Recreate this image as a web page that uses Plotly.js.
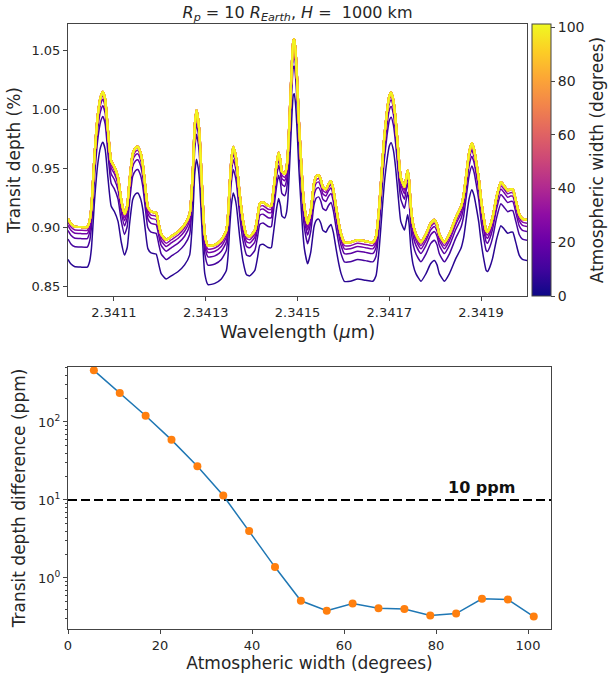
<!DOCTYPE html>
<html><head><meta charset="utf-8">
<script src="https://cdn.plot.ly/plotly-3.0.1.min.js"></script>
<style>html,body{margin:0;padding:0;background:#fff}#chart{width:610px;height:676px}</style>
</head><body><div id="chart"></div>
<script>
// ---------- DATA ----------
const wavelength = [
2.341000,2.341006,2.341014,2.341028,2.341042,2.341047,2.341051,2.341058,2.341065,2.341071,
2.341076,2.341081,2.341087,2.341094,2.341101,2.341109,2.341116,2.341123,2.341129,2.341134,
2.341141,2.341147,2.341152,2.341158,2.341163,2.341169,2.341174,2.341181,2.341192,2.341198,
2.341203,2.341214,2.341225,2.341240,2.341254,2.341265,2.341272,2.341276,2.341280,2.341284,
2.341287,2.341292,2.341298,2.341305,2.341320,2.341334,2.341345,2.341349,2.341352,2.341356,
2.341360,2.341364,2.341367,2.341374,2.341381,2.341389,2.341396,2.341407,2.341413,2.341418,
2.341425,2.341436,2.341443,2.341446,2.341450,2.341455,2.341459,2.341463,2.341466,2.341472,
2.341476,2.341479,2.341483,2.341487,2.341491,2.341493,2.341496,2.341500,2.341503,2.341507,
2.341511,2.341515,2.341522,2.341529,2.341536,2.341541,2.341546,2.341551,2.341555,2.341562,
2.341567,2.341573,2.341578,2.341584,2.341590,2.341595,2.341602,2.341615,2.341631,2.341648,
2.341664,2.341671,2.341678,2.341684,2.341689,2.341695,2.341700,2.341704,2.341709,2.341714,
2.341720,2.341725,2.341733,2.341737,2.341740,2.341743,2.341747,2.341752,2.341758,2.341769,
2.341780,2.341790,2.341798,2.341804,2.341809,2.341820,2.341831,2.341845,2.341856,2.341862,
2.341867,2.341874,2.341880,2.341885,2.341889,2.341895,2.341900,2.341906,2.341911,2.341914,
2.341919,2.341925,2.341934,2.341943,2.341950,2.341958,2.341964,2.341969,2.341976,2.341983,
2.341990,2.342000];

// transit depth (%) for atmospheric width 5.625 deg
const depthW05 = [
.8725,.8688,.8665,.8660,.8660,.8706,.8817,.9233,.9538,.9677,
.9719,.9658,.9418,.9178,.9131,.9048,.8873,.8762,.8826,.9021,
.9233,.9279,.9288,.9242,.9150,.8956,.8817,.8780,.8771,.8679,
.8605,.8559,.8586,.8623,.8679,.8762,.9104,.9446,.9575,.9492,
.9362,.8974,.8605,.8512,.8522,.8559,.8632,.8771,.8974,.9187,
.9288,.9242,.9178,.8919,.8716,.8595,.8586,.8632,.8743,.8845,
.8854,.8826,.8826,.8900,.9021,.9168,.9242,.9178,.9094,.9076,
.9122,.9233,.9538,.9880,1.0120,1.0129,1.0028,.9750,.9492,.9233,
.8984,.8817,.8688,.8790,.9002,.9057,.9067,.9030,.8974,.8956,
.8993,.9021,.8956,.8817,.8688,.8605,.8540,.8540,.8559,.8549,
.8540,.8586,.8817,.9122,.9362,.9566,.9686,.9714,.9649,.9492,
.9233,.9048,.8974,.9048,.9104,.9030,.8817,.8679,.8605,.8540,
.8605,.8688,.8716,.8679,.8605,.8540,.8605,.8734,.8817,.8910,
.9048,.9242,.9316,.9261,.9178,.9039,.8873,.8725,.8632,.8623,
.8660,.8734,.8900,.9011,.8984,.8947,.8956,.8956,.8863,.8762,
.8725,.8716];

// width 11.25 deg
const depthW11 = [
.8898,.8859,.8835,.8830,.8830,.8879,.8995,.9429,.9747,.9892,
.9936,.9873,.9622,.9371,.9323,.9236,.9052,.8937,.9004,.9207,
.9429,.9477,.9487,.9438,.9342,.9139,.8995,.8956,.8946,.8850,
.8773,.8724,.8753,.8792,.8850,.8937,.9294,.9651,.9786,.9699,
.9564,.9159,.8773,.8676,.8686,.8724,.8802,.8946,.9159,.9381,
.9487,.9438,.9371,.9101,.8888,.8763,.8753,.8802,.8917,.9023,
.9033,.9004,.9004,.9081,.9207,.9361,.9438,.9371,.9284,.9265,
.9313,.9429,.9747,1.0104,1.0355,1.0365,1.0259,.9969,.9699,.9429,
.9168,.8995,.8859,.8966,.9188,.9245,.9255,.9216,.9159,.9139,
.9178,.9207,.9139,.8995,.8859,.8773,.8705,.8705,.8724,.8715,
.8705,.8753,.8995,.9313,.9564,.9776,.9902,.9931,.9863,.9699,
.9429,.9236,.9159,.9236,.9294,.9216,.8995,.8850,.8773,.8705,
.8773,.8859,.8888,.8850,.8773,.8705,.8773,.8908,.8995,.9091,
.9236,.9438,.9516,.9458,.9371,.9226,.9052,.8898,.8802,.8792,
.8830,.8908,.9081,.9197,.9168,.9130,.9139,.9139,.9043,.8937,
.8898,.8888];

// width 16.875 deg
const depthW17 = [
.8971,.8932,.8907,.8902,.8902,.8952,.9069,.9511,.9835,.9982,
1.0027,.9962,.9707,.9452,.9403,.9315,.9128,.9010,.9079,.9285,
.9511,.9560,.9570,.9521,.9423,.9216,.9069,.9030,.9020,.8922,
.8844,.8795,.8824,.8863,.8922,.9010,.9373,.9736,.9874,.9785,
.9648,.9236,.8844,.8746,.8755,.8795,.8873,.9020,.9236,.9462,
.9570,.9521,.9452,.9177,.8961,.8834,.8824,.8873,.8991,.9099,
.9109,.9079,.9079,.9158,.9285,.9442,.9521,.9452,.9364,.9344,
.9393,.9511,.9835,1.0197,1.0453,1.0462,1.0354,1.0060,.9785,.9511,
.9246,.9069,.8932,.9040,.9266,.9324,.9334,.9295,.9236,.9216,
.9256,.9285,.9216,.9069,.8932,.8844,.8775,.8775,.8795,.8785,
.8775,.8824,.9069,.9393,.9648,.9864,.9991,1.0021,.9952,.9785,
.9511,.9315,.9236,.9315,.9373,.9295,.9069,.8922,.8844,.8775,
.8844,.8932,.8961,.8922,.8844,.8775,.8844,.8981,.9069,.9167,
.9315,.9521,.9599,.9540,.9452,.9305,.9128,.8971,.8873,.8863,
.8902,.8981,.9158,.9275,.9246,.9207,.9216,.9216,.9118,.9010,
.8971,.8961];

// width 22.5 deg
const depthW22 = [
.9014,.8974,.8949,.8944,.8944,.8994,.9113,.9561,.9889,1.0038,
1.0083,1.0018,.9759,.9501,.9451,.9362,.9173,.9054,.9123,.9332,
.9561,.9610,.9620,.9570,.9471,.9262,.9113,.9073,.9063,.8964,
.8885,.8835,.8865,.8905,.8964,.9054,.9421,.9789,.9928,.9839,
.9700,.9282,.8885,.8785,.8795,.8835,.8914,.9063,.9282,.9511,
.9620,.9570,.9501,.9223,.9004,.8875,.8865,.8914,.9034,.9143,
.9153,.9123,.9123,.9203,.9332,.9491,.9570,.9501,.9411,.9392,
.9441,.9561,.9889,1.0256,1.0515,1.0525,1.0415,1.0117,.9839,.9561,
.9292,.9113,.8974,.9083,.9312,.9372,.9382,.9342,.9282,.9262,
.9302,.9332,.9262,.9113,.8974,.8885,.8815,.8815,.8835,.8825,
.8815,.8865,.9113,.9441,.9700,.9918,1.0048,1.0077,1.0008,.9839,
.9561,.9362,.9282,.9362,.9421,.9342,.9113,.8964,.8885,.8815,
.8885,.8974,.9004,.8964,.8885,.8815,.8885,.9024,.9113,.9213,
.9362,.9570,.9650,.9590,.9501,.9352,.9173,.9014,.8914,.8905,
.8944,.9024,.9203,.9322,.9292,.9252,.9262,.9262,.9163,.9054,
.9014,.9004];

// width 28.125 deg
const depthW28 = [
.9041,.9002,.8977,.8972,.8972,.9021,.9141,.9590,.9919,1.0068,
1.0114,1.0048,.9789,.9530,.9480,.9390,.9201,.9081,.9151,.9360,
.9590,.9640,.9650,.9600,.9500,.9291,.9141,.9101,.9091,.8992,
.8912,.8862,.8892,.8932,.8992,.9081,.9450,.9819,.9959,.9869,
.9729,.9311,.8912,.8812,.8822,.8862,.8942,.9091,.9311,.9540,
.9650,.9600,.9530,.9251,.9031,.8902,.8892,.8942,.9061,.9171,
.9181,.9151,.9151,.9231,.9360,.9520,.9600,.9530,.9440,.9420,
.9470,.9590,.9919,1.0288,1.0547,1.0557,1.0447,1.0148,.9869,.9590,
.9321,.9141,.9002,.9111,.9340,.9400,.9410,.9370,.9311,.9291,
.9331,.9360,.9291,.9141,.9002,.8912,.8842,.8842,.8862,.8852,
.8842,.8892,.9141,.9470,.9729,.9949,1.0078,1.0108,1.0038,.9869,
.9590,.9390,.9311,.9390,.9450,.9370,.9141,.8992,.8912,.8842,
.8912,.9002,.9031,.8992,.8912,.8842,.8912,.9051,.9141,.9241,
.9390,.9600,.9680,.9620,.9530,.9380,.9201,.9041,.8942,.8932,
.8972,.9051,.9231,.9350,.9321,.9281,.9291,.9291,.9191,.9081,
.9041,.9031];

// widths >= 33.75 deg (visually indistinguishable, top envelope)
const depthUpper = [
.907,.903,.9005,.900,.900,.905,.917,.962,.995,1.010,
1.0146,1.008,.982,.956,.951,.942,.923,.911,.918,.939,
.962,.967,.968,.963,.953,.932,.917,.913,.912,.902,
.894,.889,.892,.896,.902,.911,.948,.985,.999,.990,
.976,.934,.894,.884,.885,.889,.897,.912,.934,.957,
.968,.963,.956,.928,.906,.893,.892,.897,.909,.920,
.921,.918,.918,.926,.939,.955,.963,.956,.947,.945,
.950,.962,.995,1.032,1.058,1.059,1.048,1.018,.990,.962,
.935,.917,.903,.914,.937,.943,.944,.940,.934,.932,
.936,.939,.932,.917,.903,.894,.887,.887,.889,.888,
.887,.892,.917,.950,.976,.998,1.011,1.014,1.007,.990,
.962,.942,.934,.942,.948,.940,.917,.902,.894,.887,
.894,.903,.906,.902,.894,.887,.894,.908,.917,.927,
.942,.963,.971,.965,.956,.941,.923,.907,.897,.896,
.900,.908,.926,.938,.935,.931,.932,.932,.922,.911,
.907,.906];

const atmWidth = [5.625, 11.25, 16.875, 22.5, 28.125, 33.75, 39.375, 45, 50.625,
                  56.25, 61.875, 67.5, 73.125, 78.75, 84.375, 90, 95.625, 101.25];
const depthDiffPpm = [459, 235, 120, 59, 27, 11.4, 4.0, 1.38, 0.51,
                      0.38, 0.47, 0.41, 0.40, 0.33, 0.35, 0.54, 0.53, 0.32];
const thresholdPpm = 10;
const thresholdLabel = '10 ppm';

const xTicksTop = [2.3411, 2.3413, 2.3415, 2.3417, 2.3419];
const yTicksTop = [0.85, 0.90, 0.95, 1.00, 1.05];
const cbTicks = [0, 20, 40, 60, 80, 100];
const xTicksBottom = [0, 20, 40, 60, 80, 100];
const yTicksBottom = [1, 10, 100];
const yTickTextBottom = ['10<sup>0</sup>', '10<sup>1</sup>', '10<sup>2</sup>'];

// ---------- STYLE ----------
const plasmaStops = [[0,'#0d0887'],[0.1,'#41049d'],[0.2,'#6a00a8'],[0.3,'#8f0da4'],
  [0.4,'#b12a90'],[0.5,'#cc4778'],[0.6,'#e16462'],[0.7,'#f2844b'],[0.8,'#fca636'],
  [0.9,'#fcce25'],[1,'#f0f921']];
function hex2rgb(h){return [parseInt(h.substr(1,2),16),parseInt(h.substr(3,2),16),parseInt(h.substr(5,2),16)];}
function plasma(n){
  n = Math.max(0, Math.min(1, n));
  for (let i = 0; i < plasmaStops.length - 1; i++) {
    const [a, ca] = plasmaStops[i], [b, cb] = plasmaStops[i+1];
    if (n <= b) {
      const f = (n - a) / (b - a), A = hex2rgb(ca), B = hex2rgb(cb);
      return 'rgb(' + A.map((v, k) => Math.round(v + f * (B[k] - v))).join(',') + ')';
    }
  }
  return plasmaStops[plasmaStops.length-1][1];
}
const cmax = atmWidth[atmWidth.length - 1];
const lowerSpectra = [depthW05, depthW11, depthW17, depthW22, depthW28];

const W = 610, H = 676;
const px = v => v / W, py = v => 1 - v / H;
const axisCol = '#444', txtCol = '#262626', FONT = 'DejaVu Sans, sans-serif';

const traces = [];
atmWidth.forEach((w, i) => {
  const y = i < lowerSpectra.length ? lowerSpectra[i] : depthUpper;
  const last = i === atmWidth.length - 1;
  traces.push({
    type: 'scatter', mode: 'lines', x: wavelength, y: y,
    xaxis: 'x', yaxis: 'y', hoverinfo: 'skip', showlegend: false,
    line: {color: plasma(w / cmax), width: i < lowerSpectra.length ? 1.5 : (last ? 1.4 : 2.2),
           shape: 'spline', smoothing: 0.5}
  });
});
// colorbar carrier
traces.push({
  type: 'scatter', mode: 'markers', x: [wavelength[0], wavelength[0]], y: [depthUpper[0], depthUpper[0]],
  xaxis: 'x', yaxis: 'y', hoverinfo: 'skip', showlegend: false,
  marker: {size: 0.1, opacity: 0, color: [0, cmax], cmin: 0, cmax: cmax,
    colorscale: plasmaStops, showscale: true,
    colorbar: {x: px(532), xanchor: 'left', xref: 'paper', y: py(24), yanchor: 'top', yref: 'paper',
      len: (296 - 24) / H, lenmode: 'fraction', thickness: 19, thicknessmode: 'pixels',
      xpad: 0, ypad: 0, outlinewidth: 1, outlinecolor: axisCol,
      tickmode: 'array', tickvals: cbTicks, ticks: 'outside', ticklen: 4, tickcolor: axisCol,
      tickfont: {size: 14, color: txtCol, family: FONT},
      title: {text: 'Atmospheric width (degrees)', side: 'right', font: {size: 17, color: txtCol, family: FONT}}}}
});
// bottom panel
traces.push({
  type: 'scatter', mode: 'lines', x: [0, 105], y: [thresholdPpm, thresholdPpm],
  xaxis: 'x2', yaxis: 'y2', hoverinfo: 'skip', showlegend: false,
  line: {color: '#000', width: 2, dash: '9px,4px'}
});
traces.push({
  type: 'scatter', mode: 'lines+markers', x: atmWidth, y: depthDiffPpm,
  xaxis: 'x2', yaxis: 'y2', hoverinfo: 'skip', showlegend: false,
  line: {color: '#1f77b4', width: 1.5},
  marker: {color: '#ff7f0e', size: 8}
});

const minorVals = [];
[0.1, 1, 10, 100].forEach(d => { for (let k = 2; k <= 9; k++) minorVals.push(k * d); });

const baseAxis = {
  showgrid: false, zeroline: false, showline: true, mirror: true, linecolor: axisCol, linewidth: 1,
  ticks: 'outside', ticklen: 4, tickwidth: 1, tickcolor: axisCol,
  tickfont: {size: 13, color: txtCol, family: FONT}
};

const layout = {
  width: W, height: H, margin: {l: 0, r: 0, t: 0, b: 0},
  paper_bgcolor: '#fff', plot_bgcolor: '#fff', hovermode: false, showlegend: false,
  font: {family: FONT, color: txtCol},
  title: {text: '<i>R<sub>p</sub></i> = 10 <i>R<sub>Earth</sub></i>, <i>H</i> =  1000 km',
    x: px(297.5), xanchor: 'center', xref: 'paper', y: py(12), yanchor: 'middle', yref: 'paper',
    font: {size: 16, color: txtCol, family: FONT}},
  xaxis: Object.assign({}, baseAxis, {domain: [px(68), px(527)], anchor: 'y',
    range: [2.341, 2.342], tickmode: 'array', tickvals: xTicksTop, tickformat: '.4f',
    title: {text: 'Wavelength (<i>μ</i>m)', font: {size: 18, color: txtCol, family: FONT}, standoff: 6}}),
  yaxis: Object.assign({}, baseAxis, {domain: [py(296), py(24)], anchor: 'x',
    range: [0.84153, 1.07203], tickmode: 'array', tickvals: yTicksTop, tickformat: '.2f',
    title: {text: 'Transit depth (%)', font: {size: 17, color: txtCol, family: FONT}, standoff: 6}}),
  xaxis2: Object.assign({}, baseAxis, {domain: [px(68), px(551)], anchor: 'y2',
    range: [0, 105], tickmode: 'array', tickvals: xTicksBottom,
    title: {text: 'Atmospheric width (degrees)', font: {size: 17, color: txtCol, family: FONT}, standoff: 4}}),
  yaxis2: Object.assign({}, baseAxis, {domain: [py(629), py(367)], anchor: 'x2',
    type: 'log', range: [-0.654, 2.705], tickmode: 'array', tickvals: yTicksBottom, ticktext: yTickTextBottom,
    minor: {tickmode: 'array', tickvals: minorVals, ticks: 'outside', ticklen: 2, tickcolor: axisCol, showgrid: false},
    title: {text: 'Transit depth difference (ppm)', font: {size: 17, color: txtCol, family: FONT}, standoff: 8}}),
  annotations: [{
    text: '<b>' + thresholdLabel + '</b>', xref: 'paper', yref: 'paper', x: px(482), y: py(487),
    xanchor: 'center', yanchor: 'middle', showarrow: false,
    font: {size: 16, color: '#111', family: FONT}
  }]
};

Plotly.newPlot('chart', traces, layout, {displayModeBar: false, staticPlot: true});
</script></body></html>
